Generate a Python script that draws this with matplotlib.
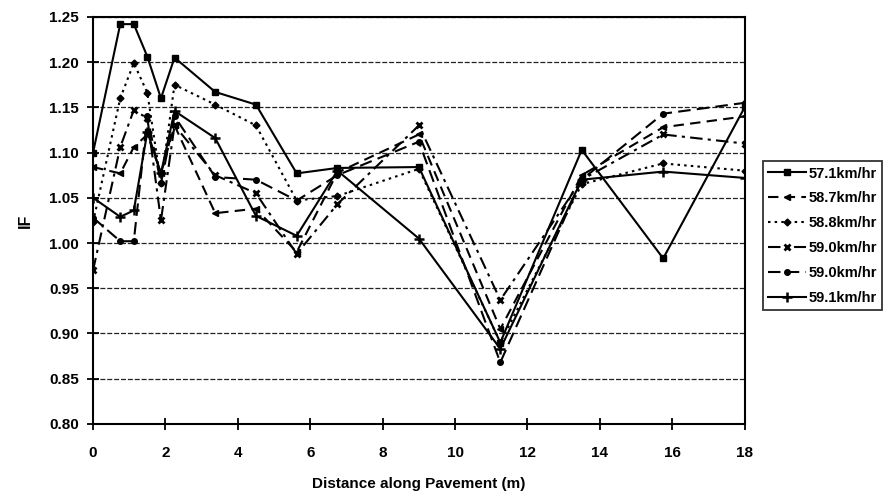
import matplotlib
matplotlib.use("Agg")
import matplotlib.pyplot as plt
from matplotlib.ticker import MultipleLocator, FormatStrFormatter

plt.rcParams['font.family'] = ['Liberation Sans', 'DejaVu Sans']
plt.rcParams['font.weight'] = 'bold'

distance = [0, 0.75, 1.125, 1.5, 1.875, 2.25, 3.375, 4.5, 5.625, 6.75, 9, 11.25, 13.5, 15.75, 18]

labels = ["57.1km/hr", "58.7km/hr", "58.8km/hr", "59.0km/hr", "59.0km/hr", "59.1km/hr"]

if_571 = [1.100, 1.242, 1.242, 1.206, 1.160, 1.205, 1.167, 1.153, 1.077, 1.083, 1.084, 0.890, 1.103, 0.983, 1.150]
if_587 = [1.084, 1.077, 1.106, 1.120, 1.077, 1.130, 1.033, 1.038, 0.990, 1.078, 1.120, 0.905, 1.075, 1.128, 1.140]
if_588 = [1.023, 1.160, 1.199, 1.166, 1.066, 1.175, 1.153, 1.130, 1.047, 1.052, 1.082, 0.890, 1.065, 1.088, 1.080]
if_590a = [0.970, 1.106, 1.147, 1.138, 1.025, 1.130, 1.075, 1.055, 0.988, 1.043, 1.130, 0.937, 1.070, 1.120, 1.110]
if_590b = [1.028, 1.002, 1.002, 1.140, 1.066, 1.140, 1.073, 1.070, 1.047, 1.075, 1.112, 0.868, 1.070, 1.143, 1.155]
if_591 = [1.050, 1.029, 1.036, 1.123, 1.077, 1.146, 1.116, 1.030, 1.008, 1.080, 1.005, 0.883, 1.070, 1.079, 1.072]

series = [if_571, if_587, if_588, if_590a, if_590b, if_591]
styles = [
    dict(linestyle='-', marker='s', markersize=4),
    dict(linestyle=(0, (5, 3)), marker='<', markersize=4.5),
    dict(linestyle=(0, (1.2, 2)), marker='D', markersize=3.5),
    dict(linestyle=(0, (6, 2.5, 1.5, 2.5)), marker='x', markersize=5, markeredgewidth=2),
    dict(linestyle=(0, (6, 3)), marker='o', markersize=4),
    dict(linestyle='-', marker='+', markersize=6.5, markeredgewidth=1.8),
]

fig = plt.figure(figsize=(8.95, 4.97), dpi=100)
ax = fig.add_axes([0.104, 0.147, 0.728, 0.819])

for vals, lab, st in zip(series, labels, styles):
    ax.plot(distance, vals, color='black', linewidth=1.5, label=lab, **st)

ax.set_xlim(0, 18)
ax.set_ylim(0.80, 1.25)
ax.xaxis.set_major_locator(MultipleLocator(2))
ax.yaxis.set_major_locator(MultipleLocator(0.05))
ax.yaxis.set_major_formatter(FormatStrFormatter('%.2f'))
ax.grid(axis='y', color='#222222', linestyle=(0, (4, 1.5)), linewidth=0.9)
ax.set_axisbelow(True)
for s in ax.spines.values():
    s.set_linewidth(1.5)
ax.tick_params(axis='both', direction='inout', length=8, width=1.3, labelsize=11)
ax.tick_params(axis='x', pad=12)
ax.tick_params(axis='y', pad=6)
for t in ax.get_xticklabels() + ax.get_yticklabels():
    t.set_fontweight('bold')

ax.set_xlabel('Distance along Pavement (m)', fontsize=11, fontweight='bold', labelpad=12)
ax.set_ylabel('IF', fontsize=11.5, fontweight='bold', labelpad=12)

leg = ax.legend(loc='upper left', bbox_to_anchor=(1.028, 0.645), frameon=True,
                fancybox=False, edgecolor='black', fontsize=10.5, handlelength=2.6,
                handletextpad=0.2, borderpad=0.35, labelspacing=0.75, borderaxespad=0)
leg.get_frame().set_linewidth(1.3)
for t in leg.get_texts():
    t.set_fontweight('bold')

fig.savefig('out.png', dpi=100)
